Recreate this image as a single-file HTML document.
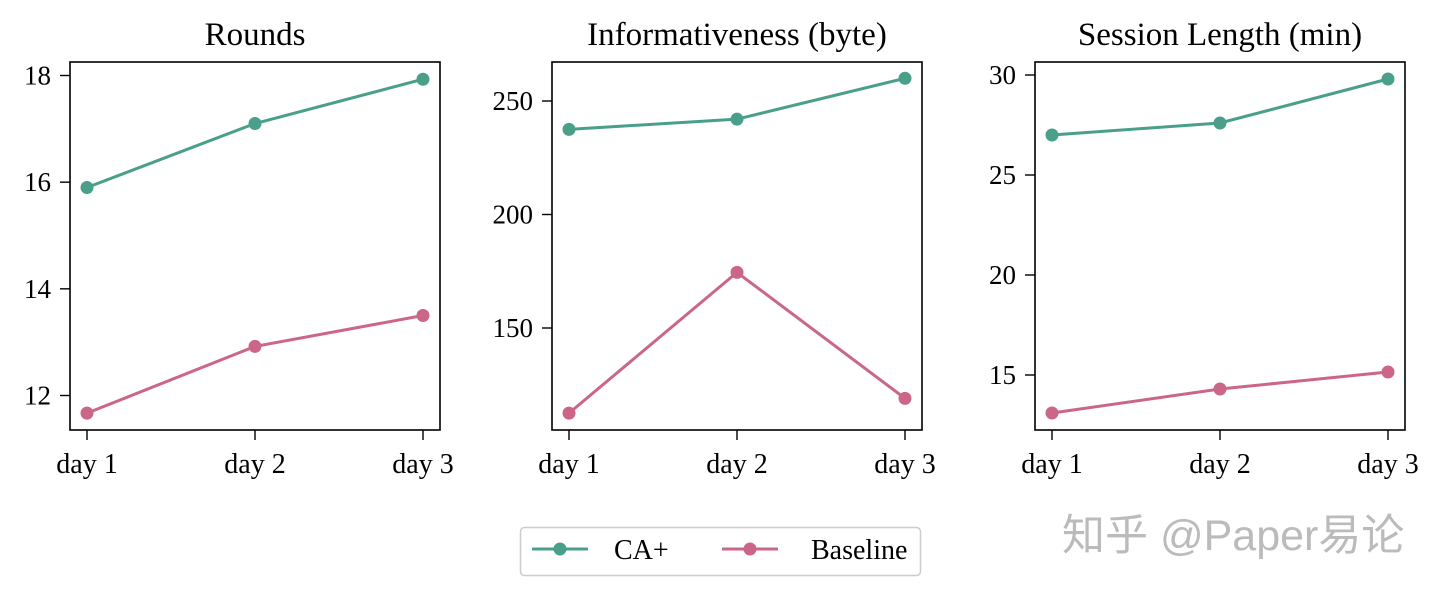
<!DOCTYPE html>
<html><head><meta charset="utf-8">
<style>
html,body{margin:0;padding:0;background:#fff;}
svg{display:block;font-family:"Liberation Serif",serif;}
</style></head>
<body>
<svg id="chart" width="1440" height="597" viewBox="0 0 1440 597" xmlns="http://www.w3.org/2000/svg"></svg>
<script>
const categories = ["day 1","day 2","day 3"];
const panelTitles = ["Rounds","Informativeness (byte)","Session Length (min)"];
const caRounds = [15.9, 17.1, 17.93];
const baseRounds = [11.67, 12.92, 13.5];
const caInfo = [237.5, 242, 260];
const baseInfo = [112.5, 174.5, 119];
const caSession = [27.0, 27.6, 29.8];
const baseSession = [13.1, 14.3, 15.15];
const ticksRounds = [12, 14, 16, 18];
const ticksInfo = [150, 200, 250];
const ticksSession = [15, 20, 25, 30];

const GREEN = "#4a9f8a", PINK = "#cc6688";
const NS = "http://www.w3.org/2000/svg";
const svg = document.getElementById("chart");
function mk(tag, attrs, parent){
  const e = document.createElementNS(NS, tag);
  for (const k in attrs) e.setAttribute(k, attrs[k]);
  (parent||svg).appendChild(e); return e;
}
const panels = [
  {x0:70, title:panelTitles[0], ca:caRounds, base:baseRounds, ticks:ticksRounds, v1:12, p1:395.5, v2:18, p2:75.5, name:"rounds"},
  {x0:552, title:panelTitles[1], ca:caInfo, base:baseInfo, ticks:ticksInfo, v1:150, p1:328, v2:250, p2:101, name:"informativeness"},
  {x0:1035, title:panelTitles[2], ca:caSession, base:baseSession, ticks:ticksSession, v1:15, p1:375, v2:30, p2:75, name:"session-length"}
];
const W = 370, TOP = 62, BOT = 430;
panels.forEach(p => {
  const g = mk("g", {});
  
  
  const y = v => p.p1 + (v - p.v1) * (p.p2 - p.p1) / (p.v2 - p.v1);
  const x = i => p.x0 + 17 + i * 168;
  const t = mk("text", {x:p.x0 + W/2, y:45, "text-anchor":"middle", "font-size":33, fill:"#000"}, g);
  t.textContent = p.title;
  
  
  const box = mk("rect", {x:p.x0, y:TOP, width:W, height:BOT-TOP, fill:"none", stroke:"#000", "stroke-width":1.6}, g);
  
  
  p.ticks.forEach(v => {
    mk("line", {x1:p.x0-10, x2:p.x0, y1:y(v), y2:y(v), stroke:"#000", "stroke-width":1.4}, g);
    const tl = mk("text", {x:p.x0-19, y:y(v)+9, "text-anchor":"end", "font-size":27, fill:"#000"}, g);
    tl.textContent = v;
    
    
  });
  categories.forEach((c, i) => {
    mk("line", {x1:x(i), x2:x(i), y1:BOT, y2:BOT+10, stroke:"#000", "stroke-width":1.4}, g);
    const tl = mk("text", {x:x(i), y:473, "text-anchor":"middle", "font-size":28, fill:"#000"}, g);
    tl.textContent = c;
    
    
  });
  [[p.ca, GREEN, "ca-plus"], [p.base, PINK, "baseline"]].forEach(([vals, col, nm]) => {
    const pl = mk("polyline", {points: vals.map((v,i)=>x(i)+","+y(v)).join(" "), fill:"none", stroke:col, "stroke-width":3}, g);
    
    
    vals.forEach((v,i) => {
      const c = mk("circle", {cx:x(i), cy:y(v), r:6.5, fill:col}, g);
      
      
    });
  });
});
const lg = mk("g", {});


mk("rect", {x:520.5, y:527.5, width:400, height:48, rx:4, fill:"#fff", stroke:"#ccc", "stroke-width":1.5}, lg);
[[GREEN, "CA+", 532, 614], [PINK, "Baseline", 722, 811]].forEach(([col, label, lx, tx]) => {
  const e = mk("g", {}, lg);
  
  
  mk("line", {x1:lx, x2:lx+56, y1:549, y2:549, stroke:col, "stroke-width":3}, e);
  mk("circle", {cx:lx+28, cy:549, r:6.5, fill:col}, e);
  const t = mk("text", {x:tx, y:559, "font-size":28, fill:"#000"}, e);
  t.textContent = label;
});
const wm = mk("text", {x:1062, y:550, "font-size":43, fill:"#bbb", "font-family":"\"Liberation Sans\",\"Noto Sans CJK SC\",sans-serif"});
wm.textContent = "知乎 @Paper易论";


</script>
</body></html>
